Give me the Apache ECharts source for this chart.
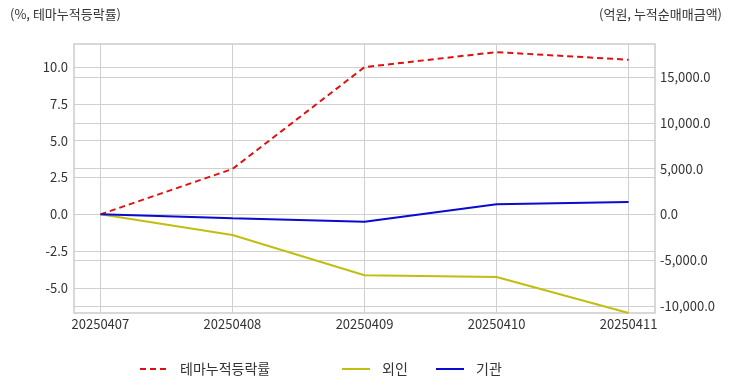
<!DOCTYPE html>
<html>
<head>
<meta charset="utf-8">
<script src="https://cdn.jsdelivr.net/npm/echarts@6/dist/echarts.min.js"></script>
<style>
html,body{margin:0;padding:0;background:#fff;}
#c{width:732px;height:392px;}
</style>
</head>
<body>
<div id="c"></div>
<script>
var categories = ['20250407', '20250408', '20250409', '20250410', '20250411'];
var themeReturn = [0.0, 3.08, 10.0, 11.02, 10.5];
var foreign = [0, -2263, -6668, -6854, -10789];
var institution = [0, -437, -809, 1093, 1345];
var leftTicks = [-5, -2.5, 0, 2.5, 5, 7.5, 10];
var rightTicks = [-10000, -5000, 0, 5000, 10000, 15000];
var xTicks = categories.map(function (c, i) { return i; });

function pairs(arr) { return arr.map(function (v, i) { return [i, v]; }); }

var font = '"Noto Sans CJK KR", "Noto Sans", sans-serif';
var legendCommon = { top: 362, padding: 0, itemWidth: 28, itemHeight: 14, itemStyle: { opacity: 0 }, textStyle: { fontSize: 14, color: '#333', fontFamily: font, padding: [0, 0, 0, 7] } };
function legendAt(name, left) {
  return Object.assign({}, legendCommon, { data: [name], left: left });
}
var chart = echarts.init(document.getElementById('c'));
chart.setOption({
  animation: false,
  textStyle: { fontFamily: font },
  grid: { left: 74, right: 77, top: 44, bottom: 79, show: true, borderColor: '#cccccc', borderWidth: 1.5 },
  graphic: [
    { type: 'text', left: 10, top: 8, style: { text: '(%, 테마누적등락률)', font: '13px ' + font, fill: '#333' } },
    { type: 'text', right: 10, top: 8, style: { text: '(억원, 누적순매매금액)', font: '13px ' + font, fill: '#333' } }
  ],
  legend: [
    legendAt('테마누적등락률', 139),
    legendAt('외인', 341),
    legendAt('기관', 435)
  ],
  xAxis: {
    type: 'value', min: -0.2, max: 4.2,
    axisLine: { show: false },
    axisTick: { show: false, customValues: xTicks },
    axisLabel: { customValues: xTicks, formatter: function (v) { return categories[Math.round(v)]; }, color: '#333', fontSize: 13, margin: 5, fontFamily: font },
    splitLine: { show: true, lineStyle: { color: '#d0d0d0', width: 1 } }
  },
  yAxis: [
    {
      type: 'value', min: -6.70, max: 11.57, position: 'left',
      axisLine: { show: false }, axisTick: { show: false, customValues: leftTicks },
      axisLabel: { customValues: leftTicks, formatter: function (v) { return v.toFixed(1); }, color: '#333', fontSize: 13, margin: 6, fontFamily: font },
      splitLine: { show: true, lineStyle: { color: '#d0d0d0', width: 1 } }
    },
    {
      type: 'value', min: -10789, max: 18630, position: 'right',
      axisLine: { show: false }, axisTick: { show: false, customValues: rightTicks },
      axisLabel: { customValues: rightTicks, formatter: function (v) { return v.toLocaleString('en-US', { minimumFractionDigits: 1, maximumFractionDigits: 1 }); }, color: '#333', fontSize: 13, margin: 5, fontFamily: font },
      splitLine: { show: true, lineStyle: { color: '#d0d0d0', width: 1 } }
    }
  ],
  series: [
    { name: '테마누적등락률', type: 'line', yAxisIndex: 0, data: pairs(themeReturn), symbol: 'none', lineStyle: { color: '#e01010', width: 2, type: [6, 4] }, itemStyle: { color: '#e01010' } },
    { name: '외인', type: 'line', yAxisIndex: 1, data: pairs(foreign), symbol: 'none', lineStyle: { color: '#c0bf10', width: 2 }, itemStyle: { color: '#c0bf10' } },
    { name: '기관', type: 'line', yAxisIndex: 1, data: pairs(institution), symbol: 'none', lineStyle: { color: '#0a0ad0', width: 2 }, itemStyle: { color: '#0a0ad0' } }
  ]
});
</script>
</body>
</html>
